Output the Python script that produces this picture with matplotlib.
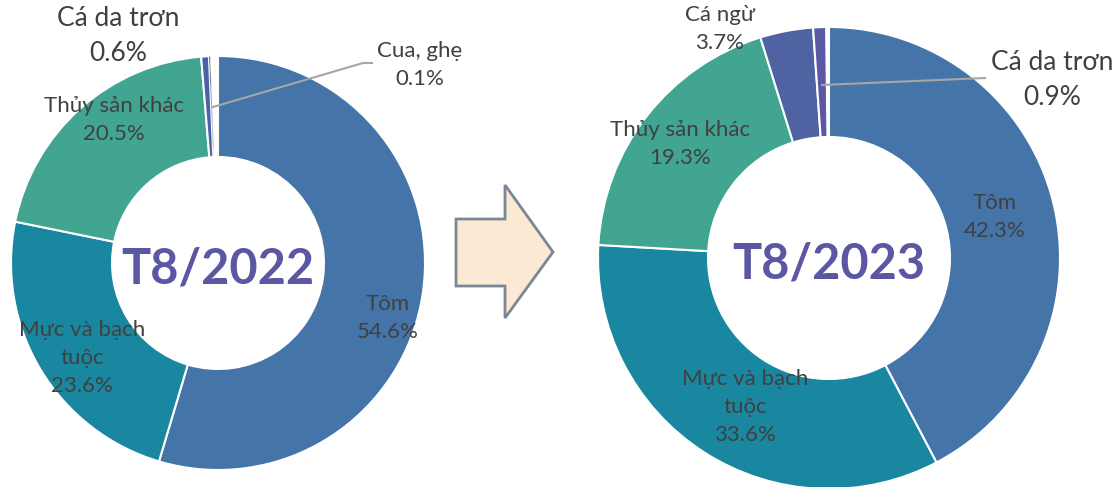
import matplotlib.pyplot as plt
from matplotlib.patches import Polygon

plt.rcParams['font.family'] = ['Lato', 'DejaVu Sans']

W, H = 1112, 487

# data
labels_2022 = ['Tôm', 'Mực và bạch\ntuộc', 'Thủy sản khác', 'Cá da trơn', 'Cua, ghẹ']
values_2022 = [54.6, 23.6, 20.5, 0.6, 0.1]
colors_2022 = ['#4474a8', '#1a87a0', '#41a591', '#4d61a6', '#1e3a5c']

labels_2023 = ['Tôm', 'Mực và bạch\ntuộc', 'Thủy sản khác', 'Cá ngừ', 'Cá da trơn']
values_2023 = [42.3, 33.6, 19.3, 3.7, 0.9]
colors_2023 = ['#4474a8', '#1a87a0', '#41a591', '#4f63a3', '#5c58a6']

# label positions in pixel coords (x, y from top), font size
pos_2022 = [(388, 318, 16), (82, 358, 16), (114, 120, 16), (118, 36, 19), (420, 65, 16)]
pos_2023 = [(995, 217, 16), (745, 407, 16), (680, 144, 16), (720, 29, 16), (1052, 80, 19)]

TXT = '#404040'


def py(y):
    return H - y


def donut(ax, values, colors, labels, positions, center, r, width, title):
    wedges, _ = ax.pie([v / 100 for v in values], colors=colors, startangle=90,
                       counterclock=False, normalize=False, radius=r, center=center,
                       wedgeprops=dict(width=width, edgecolor='white', linewidth=1.5))
    for w, v in zip(wedges, values):
        if v < 0.5:
            w.set_linewidth(0.4)
    for lab, v, (x, y, fs) in zip(labels, values, positions):
        ax.text(x, py(y), f'{lab}\n{v}%', ha='center', va='center', fontsize=fs,
                color=TXT, linespacing=1.5)
    ax.text(center[0], center[1] - 6, title, ha='center', va='center', fontsize=35,
            fontweight='bold', color='#5b57a2')


fig = plt.figure(figsize=(W / 100, H / 100), dpi=100)
ax = fig.add_axes([0, 0, 1, 1])

donut(ax, values_2022, colors_2022, labels_2022, pos_2022, (218, py(263)), 207, 101, 'T8/2022')
donut(ax, values_2023, colors_2023, labels_2023, pos_2023, (829, py(258)), 231, 110, 'T8/2023')

# leader lines
ax.plot([213, 363, 372], [py(107), py(63), py(63)], color='#a6a6a6', lw=1.5)
ax.plot([822, 985], [py(85), py(78)], color='#a6a6a6', lw=1.5)

# arrow
arrow = [(456, 219), (505, 219), (505, 185), (553, 252), (505, 318), (505, 286), (456, 286)]
ax.add_patch(Polygon([(x, py(y)) for x, y in arrow], closed=True, facecolor='#fbe9d3',
                     edgecolor='#7a8797', lw=2))

ax.set_xlim(0, W)
ax.set_ylim(0, H)
ax.set_aspect('equal')
ax.axis('off')

fig.savefig('out.png', dpi=100)
